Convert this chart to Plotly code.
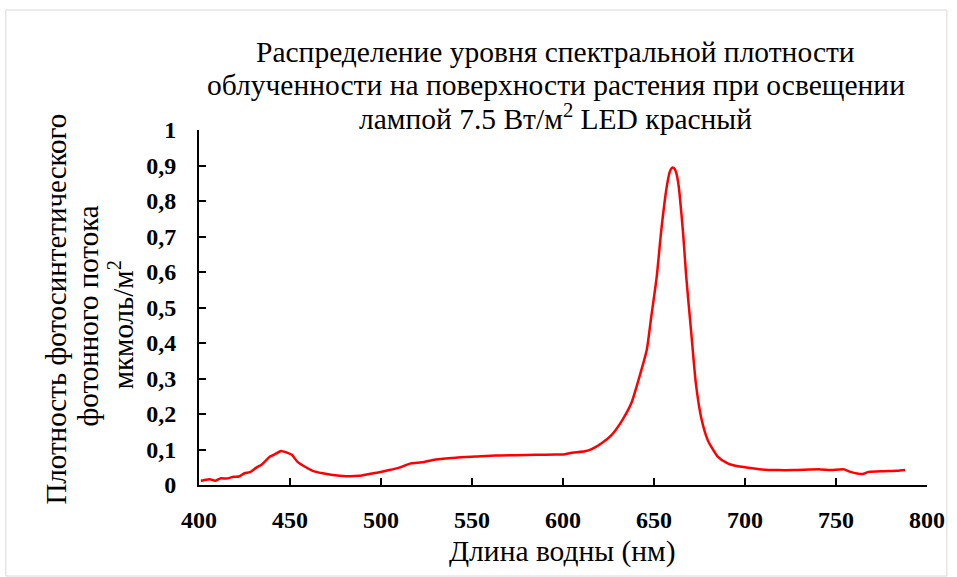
import plotly.graph_objects as go

wavelength = [401, 404, 406, 409, 412, 415, 419, 422, 425, 428, 431.5, 434.5, 439, 442.5, 445, 448,
              451, 454, 458, 462.5, 468, 473.5, 481, 488, 493.5, 499, 504.5, 510, 516.5, 522.5, 530,
              541, 552, 563, 574, 585, 596, 600, 605, 612, 616, 621, 626.5, 632, 637.5, 642, 646,
              648.5, 651.5, 654, 657, 658.7, 659.6, 660.5, 661.4, 662.3, 663.2, 664, 666, 667.7,
              670.5, 673, 676, 679.5, 685, 690.5, 696, 700, 709, 718, 727, 741.5, 747, 754.5, 758,
              764.5, 768, 776, 783.5, 788]
density = [0.012, 0.015, 0.016, 0.012, 0.019, 0.018, 0.023, 0.024, 0.033, 0.036, 0.049, 0.058, 0.080,
           0.089, 0.096, 0.092, 0.085, 0.066, 0.052, 0.040, 0.033, 0.028, 0.025, 0.026, 0.031, 0.036,
           0.042, 0.049, 0.061, 0.064, 0.072, 0.077, 0.080, 0.083, 0.084, 0.085, 0.086, 0.086, 0.091,
           0.095, 0.102, 0.117, 0.140, 0.178, 0.230, 0.305, 0.380, 0.474, 0.587, 0.718, 0.840, 0.883,
           0.892, 0.894, 0.890, 0.878, 0.855, 0.822, 0.709, 0.587, 0.427, 0.286, 0.188, 0.127, 0.080,
           0.061, 0.053, 0.050, 0.044, 0.042, 0.042, 0.044, 0.042, 0.044, 0.037, 0.031, 0.037, 0.039,
           0.040, 0.042]

x_ticks = [400, 450, 500, 550, 600, 650, 700, 750, 800]
y_ticks = [0, 0.1, 0.2, 0.3, 0.4, 0.5, 0.6, 0.7, 0.8, 0.9, 1]
y_tick_labels = ["0", "0,1", "0,2", "0,3", "0,4", "0,5", "0,6", "0,7", "0,8", "0,9", "1"]

title_lines = ["Распределение уровня спектральной плотности",
               "облученности на поверхности растения при освещении",
               "лампой 7.5 Вт/м<sup>2</sup> LED красный"]
x_title = "Длина водны (нм)"
y_title_lines = ["Плотность фотосинтетического", "фотонного потока", "мкмоль/м<sup>2</sup>"]

SERIF = "Liberation Serif, Times New Roman, serif"

fig = go.Figure()
fig.add_trace(go.Scatter(x=wavelength, y=density, mode="lines",
                         line=dict(color="#ff0000", width=2.5, shape="spline", smoothing=0.6),
                         showlegend=False, hoverinfo="skip"))

L, R, T, B = 199, 930, 130, 485
W, H = 957, 577
pw, ph = R - L, B - T

def px_x(p):
    return (p - L) / pw

def px_y(p):
    return (B - p) / ph

tickfont = dict(family=SERIF, size=24, color="black", weight="bold")
fig.update_layout(
    width=W, height=H,
    margin=dict(l=L, r=W - R, t=T, b=H - B, pad=0),
    paper_bgcolor="white", plot_bgcolor="white",
    xaxis=dict(range=[400, 800], tickvals=x_ticks, ticks="inside", ticklen=7, tickwidth=2,
               tickcolor="black", showline=True, linecolor="black", linewidth=2,
               showgrid=False, zeroline=False, ticklabelstandoff=12, tickfont=tickfont),
    yaxis=dict(range=[0, 1], tickvals=y_ticks, ticktext=y_tick_labels, ticks="inside", ticklen=7,
               tickwidth=2, tickcolor="black", showline=True, linecolor="black", linewidth=2,
               showgrid=False, zeroline=False, ticklabelstandoff=16, tickfont=tickfont),
)

annotations = []
for yp, line in zip([52, 85, 117], title_lines):
    annotations.append(dict(text=line, x=px_x(557), y=px_y(yp), xref="paper", yref="paper",
                            xanchor="center", yanchor="middle", showarrow=False,
                            font=dict(family=SERIF, size=29.5, color="black")))
annotations.append(dict(text=x_title, x=px_x(563.5), y=px_y(551), xref="paper", yref="paper",
                        xanchor="center", yanchor="middle", showarrow=False,
                        font=dict(family=SERIF, size=29.5, color="black")))
for xp, yp, line in zip([55, 88, 121], [309, 316, 325], y_title_lines):
    annotations.append(dict(text=line, x=px_x(xp), y=px_y(yp), xref="paper", yref="paper",
                            xanchor="center", yanchor="middle", showarrow=False, textangle=-90,
                            font=dict(family=SERIF, size=29, color="black")))
fig.update_layout(annotations=annotations)

fig.add_shape(type="rect", xref="paper", yref="paper",
              x0=px_x(5), x1=px_x(950), y0=px_y(576), y1=px_y(10),
              line=dict(color="#d9d9d9", width=1), fillcolor="rgba(0,0,0,0)", layer="below")

fig.write_html("out.html", config={"displayModeBar": False},
               post_script="document.body.style.margin='0';document.body.style.padding='0';")
